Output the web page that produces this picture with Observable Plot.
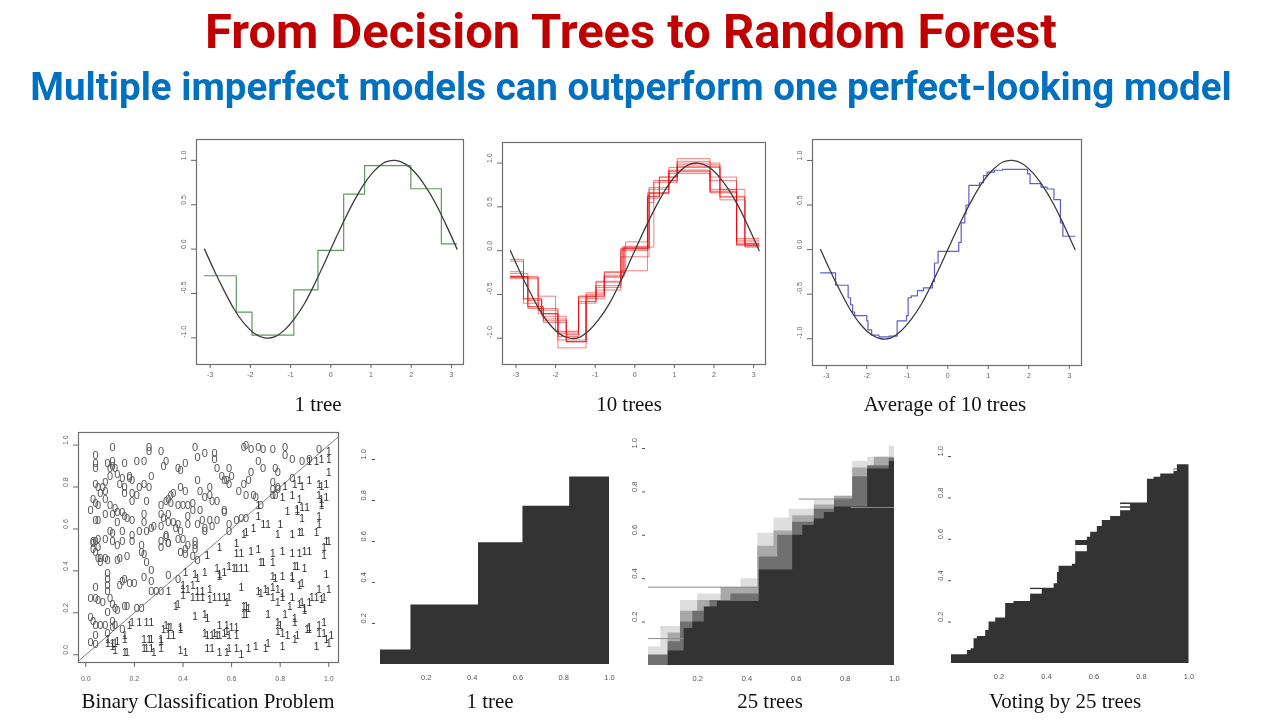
<!DOCTYPE html>
<html><head><meta charset="utf-8">
<script src="https://cdn.jsdelivr.net/npm/d3@7"></script>
<script src="https://cdn.jsdelivr.net/npm/@observablehq/plot@0.6"></script>
<style>
html,body{margin:0;padding:0;background:#fff;}
#page{position:relative;width:1280px;height:720px;overflow:hidden;background:#fff;}
#page svg{will-change:transform;}
</style></head>
<body><div id="page"></div>
<script>
// ---------------- DATA ----------------
const titleText = "From Decision Trees to Random Forest";
const subtitleText = "Multiple imperfect models can outperform one perfect-looking model";
const topCaptions = ["1 tree", "10 trees", "Average of 10 trees"];
const bottomCaptions = ["Binary Classification Problem", "1 tree", "25 trees", "Voting by 25 trees"];

const sineXTicks = [-3, -2, -1, 0, 1, 2, 3];
const sineYTicks = [-1, -0.5, 0, 0.5, 1];
const sineXDomain = [-3.34, 3.30];
const sineYDomain = [-1.30, 1.235];

// true curve (black)
const sineX = [-3.14,-2.9,-2.65,-2.4,-2.15,-1.9,-1.65,-1.4,-1.15,-0.9,-0.65,-0.4,-0.15,0.1,0.35,0.6,0.85,1.1,1.35,1.6,1.85,2.1,2.35,2.6,2.85,3.14];
const sineY = [0.00,-0.24,-0.47,-0.68,-0.84,-0.95,-1.00,-0.99,-0.91,-0.78,-0.61,-0.39,-0.15,0.10,0.34,0.56,0.75,0.89,0.98,1.00,0.96,0.86,0.71,0.52,0.29,0.00];

// 1 tree (green) : split points and leaf values
const greenSplits = [-3.15, -2.35, -1.96, -0.92, -0.32, 0.32, 0.84, 1.99, 2.75, 3.13];
const greenLevels = [-0.30, -0.71, -0.97, -0.46, -0.015, 0.62, 0.94, 0.68, 0.06];

// 10 trees (red)
const treeSplits = [
  [-3.14,-2.70,-2.31,-1.73,-1.23,-0.77,-0.27,0.36,0.86,1.90,2.57,3.14],
  [-3.14,-2.81,-2.35,-1.94,-1.42,-0.98,-0.35,0.32,0.48,1.07,2.15,2.78,3.14],
  [-3.14,-2.44,-1.94,-1.23,-0.77,-0.30,0.36,0.86,1.90,2.57,3.14],
  [-3.14,-2.70,-2.35,-1.73,-1.42,-0.98,-0.35,0.32,0.62,1.07,1.90,2.57,3.14],
  [-3.14,-2.81,-2.44,-1.94,-1.23,-0.77,-0.23,0.32,0.86,2.15,2.78,3.14],
  [-3.14,-2.70,-2.31,-1.73,-1.23,-0.98,-0.35,0.36,0.86,1.90,2.57,3.14],
  [-3.14,-2.44,-2.00,-1.42,-0.98,-0.35,0.32,0.62,1.07,1.90,2.57,3.14],
  [-3.14,-2.81,-2.35,-1.94,-1.42,-0.77,-0.27,0.48,1.07,2.15,2.78,3.14],
  [-3.14,-2.70,-2.31,-1.73,-1.23,-0.77,-0.30,0.36,0.86,1.90,2.57,3.14],
  [-3.14,-2.81,-2.44,-1.94,-1.42,-0.98,-0.35,0.32,0.62,1.07,2.15,2.78,3.14]
];
const treeLevels = [
  [-0.30,-0.64,-0.80,-1.04,-0.55,-0.28,0.03,0.65,0.92,0.67,0.06],
  [-0.10,-0.55,-0.72,-0.95,-0.58,-0.35,0.02,0.55,0.80,0.98,0.62,0.05],
  [-0.30,-0.68,-1.02,-0.52,-0.30,0.05,0.70,0.88,0.70,0.08],
  [-0.26,-0.57,-0.75,-0.96,-0.60,-0.40,0.00,0.62,0.84,1.02,0.80,0.12],
  [-0.12,-0.30,-0.66,-1.11,-0.50,-0.25,0.10,0.66,0.95,0.58,0.04],
  [-0.30,-0.66,-0.78,-1.04,-0.58,-0.45,-0.07,0.72,0.90,0.68,0.10],
  [-0.32,-0.52,-0.92,-0.52,-0.36,0.03,0.60,0.80,1.05,0.84,0.14],
  [-0.24,-0.55,-0.72,-0.98,-0.52,-0.30,0.04,0.78,0.96,0.61,0.06],
  [-0.30,-0.64,-0.82,-1.04,-0.48,-0.24,0.02,0.66,0.91,0.66,0.07],
  [-0.29,-0.60,-0.72,-0.93,-0.54,-0.42,-0.23,0.62,0.84,1.00,0.70,0.08]
];

// average of 10 trees (blue)
const avgSplits = [-3.14,-2.77,-2.46,-2.40,-2.35,-2.30,-2.00,-1.97,-1.88,-1.70,-1.45,-1.25,-1.02,-0.98,-0.90,-0.75,-0.60,-0.38,-0.33,-0.24,0.27,0.33,0.42,0.45,0.52,0.78,0.88,0.97,1.15,1.35,1.97,2.03,2.30,2.45,2.62,2.78,2.84,3.14];
const avgLevels = [-0.26,-0.40,-0.54,-0.62,-0.70,-0.74,-0.80,-0.90,-0.96,-0.98,-0.97,-0.80,-0.74,-0.54,-0.52,-0.46,-0.43,-0.36,-0.15,-0.02,0.08,0.30,0.40,0.50,0.72,0.75,0.83,0.87,0.89,0.90,0.85,0.74,0.70,0.68,0.56,0.30,0.15];

// binary classification points
const class0 = [
[0.11,0.99],[0.26,0.99],[0.26,0.97],[0.31,0.97],[0.45,0.99],[0.49,0.96],[0.53,0.96],[0.53,0.93],[0.65,0.99],[0.66,1.00],[0.68,0.98],[0.71,0.99],[0.73,0.98],[0.77,0.98],[0.82,0.99],[0.82,0.95],[0.85,0.93],[0.89,0.92],[0.92,0.93],[0.96,0.98],[0.04,0.95],
[0.04,0.91],[0.04,0.89],[0.09,0.91],[0.10,0.89],[0.11,0.92],[0.11,0.90],[0.12,0.89],[0.16,0.91],[0.21,0.92],[0.24,0.92],[0.32,0.90],[0.33,0.92],[0.38,0.89],[0.39,0.88],[0.41,0.91],[0.46,0.94],[0.54,0.89],[0.59,0.89],[0.60,0.85],[0.68,0.87],[0.71,0.92],[0.73,0.89],[0.78,0.89],[0.79,0.87],[0.46,0.83],[0.56,0.85],[0.57,0.83],[0.27,0.85],[0.13,0.86],[0.15,0.84],[0.18,0.85],
[0.04,0.81],[0.05,0.80],[0.07,0.80],[0.08,0.78],[0.08,0.82],[0.10,0.85],[0.14,0.81],[0.16,0.80],[0.18,0.84],[0.19,0.83],[0.22,0.80],[0.24,0.81],[0.26,0.80],[0.39,0.80],[0.41,0.78],[0.51,0.80],[0.47,0.78],[0.58,0.83],[0.59,0.81],[0.63,0.78],[0.65,0.81],[0.67,0.83],[0.77,0.82],[0.77,0.79],[0.79,0.79],[0.85,0.84],[0.16,0.77],[0.19,0.77],[0.21,0.76],
[0.03,0.74],[0.04,0.72],[0.05,0.71],[0.06,0.77],[0.08,0.74],[0.10,0.71],[0.12,0.70],[0.13,0.68],[0.15,0.68],[0.16,0.66],[0.19,0.73],[0.25,0.73],[0.31,0.71],[0.33,0.73],[0.34,0.74],[0.35,0.76],[0.36,0.77],[0.35,0.72],[0.38,0.71],[0.40,0.71],[0.42,0.71],[0.44,0.72],[0.44,0.69],[0.47,0.69],[0.49,0.75],[0.51,0.76],[0.52,0.73],[0.54,0.73],[0.57,0.69],[0.66,0.76],[0.69,0.76],[0.70,0.75],[0.72,0.71],[0.77,0.76],[0.78,0.76],[0.79,0.80],
[0.02,0.69],[0.04,0.64],[0.05,0.64],[0.08,0.67],[0.11,0.67],[0.13,0.63],[0.17,0.65],[0.19,0.64],[0.24,0.67],[0.24,0.63],[0.28,0.61],[0.31,0.67],[0.32,0.65],[0.34,0.67],[0.34,0.63],[0.36,0.63],[0.38,0.62],[0.42,0.66],[0.42,0.62],[0.46,0.62],[0.48,0.64],[0.49,0.59],[0.51,0.64],[0.52,0.61],[0.54,0.64],[0.57,0.68],[0.59,0.62],[0.62,0.64],[0.64,0.65],[0.66,0.65],
[0.10,0.59],[0.11,0.58],[0.15,0.59],[0.19,0.57],[0.22,0.59],[0.25,0.59],[0.27,0.60],[0.31,0.61],[0.33,0.57],[0.37,0.60],[0.39,0.59],[0.15,0.54],[0.19,0.54],[0.23,0.52],[0.31,0.54],[0.33,0.56],[0.34,0.53],[0.38,0.55],[0.40,0.55],[0.45,0.54],[0.49,0.60],[0.59,0.59],[0.03,0.54],[0.03,0.53],[0.04,0.54],[0.05,0.55],[0.08,0.55],[0.11,0.54],
[0.03,0.50],[0.04,0.49],[0.05,0.51],[0.13,0.52],[0.23,0.49],[0.31,0.51],[0.34,0.53],[0.39,0.49],[0.41,0.50],[0.42,0.52],[0.45,0.52],[0.45,0.50],[0.05,0.46],[0.06,0.46],[0.08,0.46],[0.09,0.45],[0.17,0.47],[0.24,0.48],[0.14,0.46],[0.41,0.48],
[0.06,0.44],[0.13,0.45],[0.25,0.44],[0.27,0.40],[0.44,0.47],[0.46,0.45],[0.09,0.39],[0.09,0.36],[0.15,0.35],[0.16,0.36],[0.18,0.34],[0.20,0.34],[0.34,0.38],
[0.09,0.33],[0.04,0.32],[0.09,0.30],[0.24,0.37],[0.27,0.35],[0.27,0.30],[0.29,0.30],[0.31,0.30],[0.14,0.33],[0.38,0.36],
[0.02,0.27],[0.04,0.27],[0.05,0.26],[0.07,0.25],[0.10,0.27],[0.11,0.24],[0.12,0.22],[0.13,0.21],[0.16,0.23],[0.17,0.23],[0.21,0.22],[0.23,0.22],
[0.02,0.18],[0.03,0.16],[0.04,0.14],[0.06,0.14],[0.08,0.14],[0.09,0.20],[0.11,0.16],[0.12,0.14],
[0.04,0.09],[0.09,0.10],[0.11,0.13],[0.15,0.12],[0.02,0.06],[0.04,0.05]
];
const class1 = [
[1.00,0.97],[0.97,0.93],[1.00,0.93],[0.95,0.92],[0.92,0.92],[1.00,0.87],
[0.86,0.81],[0.88,0.83],[0.89,0.80],[0.92,0.83],[0.96,0.81],[0.97,0.80],[0.99,0.81],[0.82,0.80],
[0.71,0.71],[0.81,0.75],[0.85,0.76],[0.88,0.74],[0.87,0.69],[0.89,0.70],[0.91,0.70],[0.96,0.76],[0.97,0.74],[0.97,0.72],[0.99,0.75],[0.97,0.71],
[0.71,0.66],[0.75,0.62],[0.80,0.62],[0.83,0.68],[0.87,0.68],[0.89,0.65],[0.96,0.66],[0.96,0.62],
[0.62,0.53],[0.65,0.57],[0.66,0.58],[0.69,0.60],[0.73,0.62],[0.79,0.57],[0.85,0.57],[0.88,0.58],[0.89,0.58],[0.95,0.58],[0.99,0.54],[1.00,0.54],
[0.62,0.48],[0.64,0.48],[0.55,0.51],[0.68,0.49],[0.71,0.50],[0.77,0.48],[0.81,0.49],[0.85,0.48],[0.88,0.48],[0.90,0.49],[0.92,0.49],[0.98,0.51],[0.98,0.47],[0.50,0.47],
[0.41,0.39],[0.49,0.39],[0.45,0.38],[0.46,0.36],[0.54,0.41],[0.55,0.38],[0.57,0.39],[0.59,0.42],[0.61,0.41],[0.62,0.41],[0.64,0.41],[0.66,0.41],[0.72,0.44],[0.73,0.44],[0.77,0.44],[0.77,0.37],[0.78,0.36],[0.81,0.37],[0.85,0.36],[0.86,0.42],[0.87,0.42],[0.90,0.41],[0.99,0.38],[0.55,0.37],
[0.34,0.30],[0.40,0.33],[0.40,0.31],[0.42,0.31],[0.44,0.33],[0.46,0.30],[0.48,0.30],[0.51,0.31],[0.53,0.27],[0.55,0.27],[0.57,0.27],[0.59,0.27],[0.64,0.32],[0.71,0.30],[0.72,0.29],[0.74,0.31],[0.75,0.30],[0.77,0.32],[0.79,0.31],[0.81,0.29],[0.88,0.33],[0.89,0.34],[0.96,0.31],[1.00,0.31],[0.85,0.37],
[0.37,0.23],[0.38,0.24],[0.40,0.28],[0.44,0.27],[0.46,0.27],[0.48,0.27],[0.51,0.26],[0.58,0.25],[0.65,0.23],[0.66,0.23],[0.67,0.22],[0.77,0.27],[0.79,0.25],[0.81,0.27],[0.85,0.27],[0.88,0.24],[0.89,0.25],[0.93,0.27],[0.95,0.27],[0.97,0.26],[0.98,0.27],[0.92,0.25],
[0.19,0.15],[0.22,0.15],[0.25,0.15],[0.27,0.15],[0.33,0.14],[0.34,0.13],[0.35,0.13],[0.39,0.13],[0.45,0.18],[0.49,0.19],[0.50,0.17],[0.55,0.14],[0.58,0.14],[0.60,0.13],[0.62,0.13],[0.65,0.19],[0.66,0.19],[0.75,0.19],[0.79,0.15],[0.80,0.14],[0.82,0.19],[0.86,0.17],[0.86,0.15],[0.90,0.21],[0.90,0.22],[0.92,0.12],[0.96,0.14],[0.98,0.15],[0.84,0.23],
[0.16,0.09],[0.16,0.07],[0.18,0.14],[0.24,0.07],[0.26,0.07],[0.27,0.07],[0.31,0.07],[0.31,0.06],[0.32,0.12],[0.34,0.09],[0.36,0.09],[0.39,0.12],[0.49,0.10],[0.50,0.09],[0.52,0.09],[0.53,0.10],[0.54,0.09],[0.55,0.09],[0.57,0.10],[0.58,0.11],[0.59,0.09],[0.62,0.09],[0.79,0.11],[0.81,0.10],[0.83,0.09],[0.86,0.07],[0.87,0.09],[0.91,0.12],[0.92,0.13],[0.96,0.10],[0.98,0.10],[0.99,0.07],[1.01,0.09],[0.09,0.07],[0.11,0.04],[0.12,0.05],[0.13,0.06],
[0.09,0.05],[0.11,0.05],[0.12,0.02],[0.16,0.01],[0.17,0.01],[0.24,0.03],[0.25,0.03],[0.27,0.03],[0.28,0.01],[0.31,0.03],[0.39,0.02],[0.41,0.01],[0.50,0.03],[0.52,0.03],[0.55,0.01],[0.58,0.01],[0.59,0.03],[0.62,0.03],[0.64,0.00],[0.67,0.03],[0.70,0.04],[0.74,0.03],[0.75,0.05],[0.81,0.04],[0.95,0.04],[1.00,0.05]
];
const abline = {intercept: 0, slope: 1};
const unitTicks = [0, 0.2, 0.4, 0.6, 0.8, 1.0];
const gridTicks = [0.2, 0.4, 0.6, 0.8, 1.0];

// 1 tree classifier
const oneTreeSplits = [0, 0.133, 0.428, 0.622, 0.826, 1.0];
const oneTreeLevels = [0.071, 0.29, 0.594, 0.772, 0.915];

// 25 trees probability bands (light -> dark)
const bandSplits = [
  [0, 0.05, 0.13, 0.20, 0.335, 0.376, 0.444, 0.51, 0.572, 0.674, 0.756, 0.83, 0.891, 0.979, 1.0],
  [0, 0.08, 0.13, 0.20, 0.295, 0.444, 0.51, 0.586, 0.674, 0.756, 0.83, 0.918, 1.0],
  [0, 0.08, 0.13, 0.18, 0.25, 0.335, 0.45, 0.525, 0.586, 0.674, 0.756, 0.83, 0.891, 0.979, 1.0],
  [0.08, 0.145, 0.18, 0.227, 0.28, 0.45, 0.586, 0.627, 0.674, 0.715, 0.756, 0.891, 0.979, 1.0]
];
const bandLevels = [
  [0.085, 0.18, 0.30, 0.33, 0.36, 0.40, 0.61, 0.68, 0.72, 0.76, 0.78, 0.94, 0.96, 1.01],
  [0.05, 0.15, 0.25, 0.30, 0.36, 0.55, 0.62, 0.69, 0.74, 0.78, 0.91, 0.96],
  [0.047, 0.11, 0.20, 0.25, 0.30, 0.33, 0.50, 0.60, 0.66, 0.72, 0.767, 0.87, 0.92, 0.955],
  [0.067, 0.17, 0.20, 0.27, 0.295, 0.44, 0.60, 0.645, 0.675, 0.705, 0.73, 0.905, 0.94]
];
const bandColors = ["#dedede", "#a9a9a9", "#707070", "#333333"];
const streaks = [
  {y: 0.361, x1: 0, x2: 0.45},
  {y: 0.124, x1: 0, x2: 0.145},
  {y: 0.767, x1: 0.613, x2: 0.824},
  {y: 0.728, x1: 0.824, x2: 1.0}
];

// voting by 25 trees
const voteSplits = [0, 0.067, 0.083, 0.095, 0.109, 0.144, 0.158, 0.186, 0.228, 0.263, 0.333, 0.432, 0.446, 0.453, 0.509, 0.523, 0.572, 0.586, 0.614, 0.635, 0.670, 0.712, 0.825, 0.853, 0.881, 0.937, 0.951, 1.0];
const voteLevels = [0.042, 0.063, 0.071, 0.12, 0.13, 0.16, 0.20, 0.22, 0.29, 0.30, 0.364, 0.385, 0.44, 0.47, 0.48, 0.594, 0.61, 0.634, 0.662, 0.691, 0.71, 0.775, 0.89, 0.90, 0.915, 0.94, 0.96];
const voteGaps = [
  {x1: 0.333, x2: 0.382, y1: 0.335, y2: 0.357},
  {x1: 0.523, x2: 0.572, y1: 0.54, y2: 0.57},
  {x1: 0.712, x2: 0.754, y1: 0.738, y2: 0.75},
  {x1: 0.712, x2: 0.754, y1: 0.757, y2: 0.768},
  {x1: 0.937, x2: 0.951, y1: 0.928, y2: 0.936}
];

// ---------------- HELPERS ----------------
const page = document.getElementById("page");
const FONT = "Liberation Sans, Arial, sans-serif";
function place(el, left, top) {
  el.style.position = "absolute";
  el.style.left = left + "px";
  el.style.top = top + "px";
  page.appendChild(el);
}
function stepPoints(xs, levels, extra = {}) {
  const pts = levels.map((y, i) => ({x: xs[i], y, ...extra}));
  pts.push({x: xs[xs.length - 1], y: levels[levels.length - 1], ...extra});
  return pts;
}
const sineCurve = sineX.map((x, i) => ({x, y: sineY[i]}));
const fmt1 = d => d.toFixed(1);

// R-like axis pieces: tick marks + labels (x labels horizontal, y labels rotated)
function rAxes({xTicks, yTicks, xFmt, yFmt, xTickSize, yTickSize, yTickGap = 0, xLabelDy, yLabelDx, fontSize, color}) {
  const marks = [];
  if (xTickSize > 0) marks.push(Plot.axisX({ticks: xTicks, tickSize: xTickSize, tickFormat: () => "", label: null, color}));
  marks.push(Plot.text(xTicks, {x: d => d, text: xFmt, frameAnchor: "bottom", dy: xLabelDy, fontSize, fill: color}));
  marks.push(Plot.axisY({ticks: yTicks, tickSize: yTickSize, dx: -yTickGap, tickFormat: () => "", label: null, color}));
  marks.push(Plot.text(yTicks, {y: d => d, text: yFmt, frameAnchor: "left", dx: -yLabelDx, rotate: -90, fontSize, fill: color}));
  return marks;
}

function sinePanel(box, marks) {
  const m = {l: 30, r: 4, t: 4, b: 24};
  const svg = Plot.plot({
    width: box.w + m.l + m.r, height: box.h + m.t + m.b,
    marginLeft: m.l, marginRight: m.r, marginTop: m.t, marginBottom: m.b,
    x: {domain: sineXDomain, axis: null}, y: {domain: sineYDomain, axis: null},
    style: {background: "transparent", fontFamily: FONT, fontSize: "7px", overflow: "hidden"},
    marks: [
      ...marks,
      Plot.line(sineCurve, {x: "x", y: "y", curve: "catmull-rom", stroke: "#3c3c3c", strokeWidth: 1.3}),
      Plot.frame({stroke: "#6e6e6e", strokeWidth: 1.2}),
      ...rAxes({xTicks: sineXTicks, yTicks: sineYTicks, xFmt: d => String(d), yFmt: fmt1,
        xTickSize: 4, yTickSize: 5, xLabelDy: 12.5, yLabelDx: 13, fontSize: 7, color: "#666"})
    ]
  });
  place(svg, box.left - m.l, box.top - m.t);
}

function gridPanel(box, marks, o) {
  const m = {l: o.ml, r: o.mr, t: o.mt, b: 26};
  const svg = Plot.plot({
    width: box.w + m.l + m.r, height: box.h + m.t + m.b,
    marginLeft: m.l, marginRight: m.r, marginTop: m.t, marginBottom: m.b,
    x: {domain: [0, 1], axis: null}, y: {domain: [0, 1], axis: null},
    style: {background: "transparent", fontFamily: FONT, fontSize: "7.5px", overflow: "hidden"},
    marks: [
      ...marks,
      ...rAxes({xTicks: gridTicks, yTicks: gridTicks, xFmt: fmt1, yFmt: fmt1,
        xTickSize: 0, yTickSize: 3, yTickGap: o.tickGap, xLabelDy: 15.5, yLabelDx: o.labelGap, fontSize: 7.5, color: "#555"})
    ]
  });
  place(svg, box.left - m.l, box.top - m.t);
}

// ---------------- TOP ROW ----------------
sinePanel({left: 196, top: 139, w: 267, h: 225}, [
  Plot.line(stepPoints(greenSplits, greenLevels), {x: "x", y: "y", curve: "step-after", stroke: "#5c9a5c", strokeWidth: 1.2})
]);

const redTable = treeSplits.flatMap((s, i) => stepPoints(s, treeLevels[i], {tree: i}));
sinePanel({left: 502, top: 142, w: 263, h: 222}, [
  Plot.line(redTable, {x: "x", y: "y", z: "tree", curve: "step-after", stroke: "#ee0000", strokeOpacity: 0.5, strokeWidth: 1})
]);

sinePanel({left: 812, top: 139, w: 269, h: 226}, [
  Plot.line(stepPoints(avgSplits, avgLevels), {x: "x", y: "y", curve: "step-after", stroke: "#5c5cd6", strokeWidth: 1.2})
]);

// ---------------- BOTTOM ROW ----------------
// scatter
{
  const xd = [-0.03, 1.04], yd = [-0.037, 1.06];
  const lineEnds = [xd[0], xd[1]].map(x => ({x, y: abline.intercept + abline.slope * x}));
  const m = {l: 26, r: 4, t: 4, b: 26};
  const box = {left: 78.3, top: 431.7, w: 260, h: 230};
  const svg = Plot.plot({
    width: box.w + m.l + m.r, height: box.h + m.t + m.b,
    marginLeft: m.l, marginRight: m.r, marginTop: m.t, marginBottom: m.b,
    x: {domain: xd, axis: null}, y: {domain: yd, axis: null},
    style: {background: "transparent", fontFamily: FONT, fontSize: "7px", overflow: "hidden"},
    marks: [
      Plot.line(lineEnds, {x: "x", y: "y", stroke: "#808080", strokeWidth: 1, clip: true}),
      Plot.text(class0, {x: d => d[0], y: d => d[1], text: () => "0", fontSize: 11, fill: "#555555", fontFamily: FONT}),
      Plot.text(class1, {x: d => d[0], y: d => d[1], text: () => "1", fontSize: 10, fill: "#2e2e2e", fontFamily: FONT}),
      Plot.frame({stroke: "#6e6e6e", strokeWidth: 1.2}),
      ...rAxes({xTicks: unitTicks, yTicks: unitTicks, xFmt: fmt1, yFmt: fmt1,
        xTickSize: 5, yTickSize: 5, xLabelDy: 18.5, yLabelDx: 13, fontSize: 7, color: "#666"})
    ]
  });
  place(svg, box.left - m.l, box.top - m.t);
}

// 1 tree classifier
gridPanel({left: 380.2, top: 458.5, w: 229, h: 205}, [
  Plot.areaY(stepPoints(oneTreeSplits, oneTreeLevels), {x: "x", y: "y", curve: "step-after", fill: "#333333"})
], {ml: 24, mr: 8, mt: 10, tickGap: 5, labelGap: 17});

// 25 trees
gridPanel({left: 647.5, top: 448.2, w: 246, h: 217}, [
  ...bandSplits.map((s, i) => Plot.areaY(stepPoints(s, bandLevels[i]), {x: "x", y: "y", curve: "step-after", fill: bandColors[i]})),
  Plot.ruleY(streaks, {y: "y", x1: "x1", x2: "x2", stroke: "#8a8a8a", strokeWidth: 1})
], {ml: 22, mr: 10, mt: 12, tickGap: 3, labelGap: 14});

// voting by 25 trees
gridPanel({left: 950.8, top: 456, w: 237.5, h: 207}, [
  Plot.areaY(stepPoints(voteSplits, voteLevels), {x: "x", y: "y", curve: "step-after", fill: "#333333"}),
  Plot.rect(voteGaps, {x1: "x1", x2: "x2", y1: "y1", y2: "y2", fill: "#ffffff"})
], {ml: 20, mr: 8, mt: 10, tickGap: 0, labelGap: 11});

// ---------------- TEXT OVERLAY ----------------
const overlay = d3.create("svg").attr("width", 1280).attr("height", 720)
  .style("position", "absolute").style("left", "0px").style("top", "0px").style("pointer-events", "none");
page.appendChild(overlay.node());

function fitText(sel, target) {
  const w = sel.node().getComputedTextLength();
  const fs = +sel.attr("font-size");
  if (w > 0) sel.attr("font-size", (fs * target / w).toFixed(2));
}
const t1 = overlay.append("text").attr("x", 631).attr("y", 48).attr("text-anchor", "middle")
  .attr("font-family", "Roboto, sans-serif").attr("font-weight", 700).attr("font-size", 40)
  .attr("fill", "#C00000").text(titleText);
fitText(t1, 852);
const t2 = overlay.append("text").attr("x", 631).attr("y", 100).attr("text-anchor", "middle")
  .attr("font-family", "Roboto, sans-serif").attr("font-weight", 700).attr("font-size", 30)
  .attr("fill", "#0070C0").text(subtitleText);
fitText(t2, 1202);

const capFont = "Liberation Serif, Times New Roman, serif";
const topCapX = [318, 629, 945];
const botCapX = [208, 490, 770, 1065];
const probe = overlay.append("text").attr("font-family", capFont).attr("font-size", 21).text(bottomCaptions[0]);
const pw = probe.node().getComputedTextLength();
const capSize = pw > 0 ? 21 * 253 / pw : 21;
probe.remove();
topCaptions.forEach((c, i) => overlay.append("text").attr("x", topCapX[i]).attr("y", 411).attr("text-anchor", "middle")
  .attr("font-family", capFont).attr("font-size", capSize).attr("fill", "#111").text(c));
bottomCaptions.forEach((c, i) => overlay.append("text").attr("x", botCapX[i]).attr("y", 708).attr("text-anchor", "middle")
  .attr("font-family", capFont).attr("font-size", capSize).attr("fill", "#111").text(c));
</script>
</body></html>
